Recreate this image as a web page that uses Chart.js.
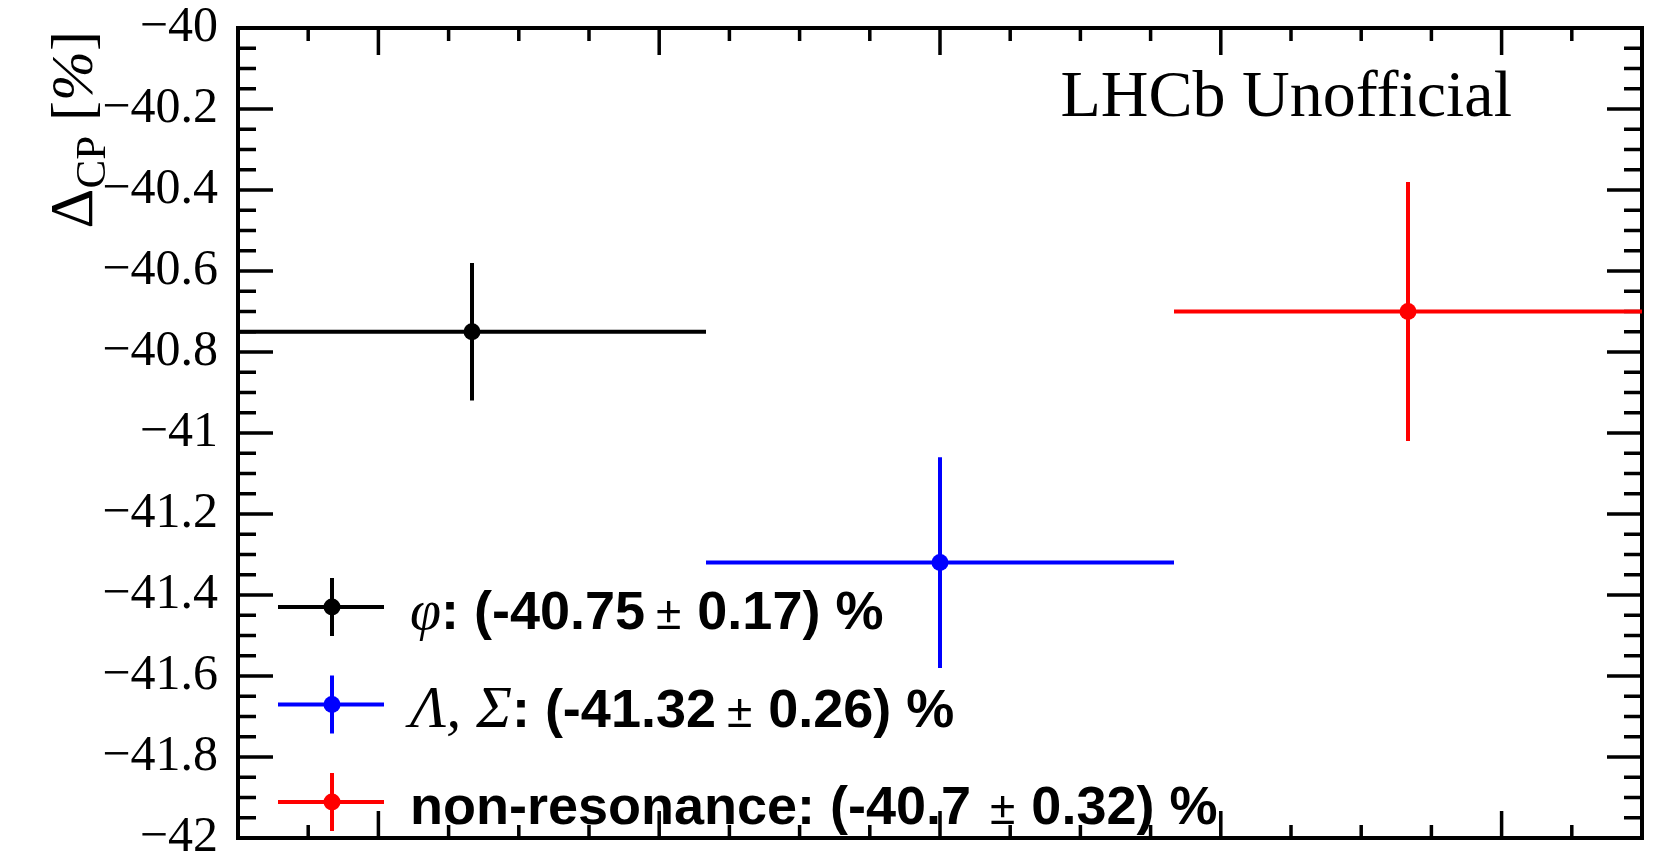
<!DOCTYPE html>
<html>
<head>
<meta charset="utf-8">
<title>Delta CP per channel</title>
<script src="https://cdn.jsdelivr.net/npm/chart.js@4.4.1/dist/chart.umd.min.js"></script>
<style>
  html, body { margin: 0; padding: 0; background: #fff; }
  #wrap { width: 1674px; height: 859px; position: relative; }
</style>
</head>
<body>
<div id="wrap"><canvas id="dcp"></canvas></div>
<script>
// one bin per channel on the x axis
const channels = ['phi', 'lambdaSigma', 'nonResonance'];
const binCentres = [0.5, 1.5, 2.5];
const binHalfWidth = [0.5, 0.5, 0.5];
const deltaCP = [-40.75, -41.32, -40.7];
const deltaCPErr = [0.17, 0.26, 0.32];
const colours = ['#000000', '#0000ff', '#ff0000'];

// legend names: greek symbols go in serif italic, plain names in bold sans
const legendGreek = ['\u03c6', '\u039b, \u03a3', ''];
const legendName = ['', '', 'non-resonance'];

const yTickValues = [-42, -41.8, -41.6, -41.4, -41.2, -41, -40.8, -40.6, -40.4, -40.2, -40];

const SERIF = 'Liberation Serif, Times New Roman, serif';
const SANS = 'Liberation Sans, Arial, Helvetica, sans-serif';

function fmtTick(v) {
  return (Math.round(v * 10) / 10).toString().replace('-', '\u2212');
}

// ROOT style frame: box and inward ticks on all four sides, drawn under the data
function drawFrame(chart) {
  const { ctx, chartArea: a, scales: { x, y } } = chart;
  ctx.save();
  ctx.strokeStyle = '#000';
  ctx.lineWidth = 3.5;
  ctx.beginPath();
  for (let k = 0; k <= 40; k++) {
    const py = y.getPixelForValue(-42 + k * 0.05);
    const len = k % 4 === 0 ? 35 : 18;
    ctx.moveTo(a.left, py); ctx.lineTo(a.left + len, py);
    ctx.moveTo(a.right, py); ctx.lineTo(a.right - len, py);
  }
  for (let k = 0; k <= 20; k++) {
    const px = x.getPixelForValue(k * 0.15);
    const len = k % 4 === 2 ? 27 : 13;
    ctx.moveTo(px, a.bottom); ctx.lineTo(px, a.bottom - len);
    ctx.moveTo(px, a.top); ctx.lineTo(px, a.top + len);
  }
  ctx.stroke();
  ctx.lineWidth = 4;
  ctx.strokeRect(a.left, a.top, a.right - a.left, a.bottom - a.top);
  ctx.restore();
}

function drawErrorBars(chart) {
  const { ctx, scales: { x, y } } = chart;
  ctx.save();
  ctx.lineWidth = 4;
  deltaCP.forEach((v, i) => {
    const px = x.getPixelForValue(binCentres[i]);
    const py = y.getPixelForValue(v);
    ctx.strokeStyle = colours[i];
    ctx.beginPath();
    ctx.moveTo(x.getPixelForValue(binCentres[i] - binHalfWidth[i]), py);
    ctx.lineTo(x.getPixelForValue(binCentres[i] + binHalfWidth[i]), py);
    ctx.moveTo(px, y.getPixelForValue(v - deltaCPErr[i]));
    ctx.lineTo(px, y.getPixelForValue(v + deltaCPErr[i]));
    ctx.stroke();
  });
  ctx.restore();
}

const rootFrame = {
  id: 'rootFrame',
  beforeDatasetsDraw(chart) {
    drawFrame(chart);
    drawErrorBars(chart);
  },
  afterDraw(chart) {
    const { ctx } = chart;
    ctx.save();

    // label in the corner
    ctx.fillStyle = '#000';
    ctx.font = '66px ' + SERIF;
    ctx.textAlign = 'right';
    ctx.textBaseline = 'alphabetic';
    ctx.fillText('LHCb Unofficial', 1512, 116);

    // y title, rotated, ending at the top of the axis
    const title = [
      { t: '\u0394', f: '62px ' + SERIF, dy: 0 },
      { t: 'CP', f: '43px ' + SERIF, dy: 13 },
      { t: ' [', f: '60px ' + SERIF, dy: 0 },
      { t: '%', f: 'italic 60px ' + SERIF, dy: 0 },
      { t: ']', f: '60px ' + SERIF, dy: 0 }
    ];
    let total = 0;
    title.forEach(p => { ctx.font = p.f; p.w = ctx.measureText(p.t).width; total += p.w; });
    ctx.save();
    ctx.translate(92, 31);
    ctx.rotate(-Math.PI / 2);
    ctx.textAlign = 'left';
    let u = -total;
    title.forEach(p => { ctx.font = p.f; ctx.fillText(p.t, u, p.dy); u += p.w; });
    ctx.restore();

    // legend
    ctx.textAlign = 'left';
    deltaCP.forEach((v, i) => {
      const cy = 607 + i * 97.5;
      ctx.strokeStyle = colours[i];
      ctx.fillStyle = colours[i];
      ctx.lineWidth = 4;
      ctx.beginPath();
      ctx.moveTo(278, cy); ctx.lineTo(384, cy);
      ctx.moveTo(332, cy - 29); ctx.lineTo(332, cy + 29);
      ctx.stroke();
      ctx.beginPath();
      ctx.arc(332, cy, 8.5, 0, Math.PI * 2);
      ctx.fill();

      const base = cy + 22;
      const bold = 'bold 54px ' + SANS;
      const segs = [];
      if (legendGreek[i]) {
        const gSize = legendGreek[i].length > 1 ? 60 : 56;
        segs.push({ t: legendGreek[i], f: 'italic ' + gSize + 'px ' + SERIF });
        segs.push({ t: ': (' + v, f: bold });
        segs.push({ t: '\u00b1', f: '46px ' + SANS, pre: 11 });
      } else {
        segs.push({ t: legendName[i] + ': (' + v, f: bold });
        segs.push({ t: '\u00b1', f: '46px ' + SANS, pre: 19 });
      }
      segs.push({ t: deltaCPErr[i] + ') %', f: bold, pre: 16 });
      ctx.fillStyle = '#000';
      let tx = 410;
      segs.forEach(s => {
        tx += s.pre || 0;
        ctx.font = s.f;
        ctx.fillText(s.t, tx, base);
        tx += ctx.measureText(s.t).width;
      });
    });
    ctx.restore();
  }
};

new Chart(document.getElementById('dcp'), {
  type: 'scatter',
  data: {
    datasets: channels.map((c, i) => ({
      label: c,
      data: [{ x: binCentres[i], y: deltaCP[i] }],
      pointRadius: 8.5,
      pointHoverRadius: 8.5,
      pointBorderWidth: 0,
      pointBackgroundColor: colours[i],
      borderColor: colours[i]
    }))
  },
  options: {
    responsive: true,
    maintainAspectRatio: false,
    animation: false,
    layout: { padding: { left: 0, top: 28, right: 32, bottom: 21 } },
    plugins: { legend: { display: false }, tooltip: { enabled: false } },
    scales: {
      x: {
        type: 'linear', min: 0, max: 3,
        grid: { display: false, drawTicks: false },
        border: { display: false },
        ticks: { display: false },
        afterFit: s => { s.height = 0; s.paddingLeft = 0; s.paddingRight = 0; }
      },
      y: {
        type: 'linear', min: -42, max: -40,
        grid: { display: false, drawTicks: false },
        border: { display: false },
        afterBuildTicks: s => { s.ticks = yTickValues.map(v => ({ value: v })); },
        ticks: {
          color: '#000',
          padding: 20,
          font: { family: SERIF, size: 50 },
          callback: v => fmtTick(v)
        },
        afterFit: s => { s.width = 238; s.paddingTop = 0; s.paddingBottom = 0; }
      }
    }
  },
  plugins: [rootFrame]
});
</script>
</body>
</html>
